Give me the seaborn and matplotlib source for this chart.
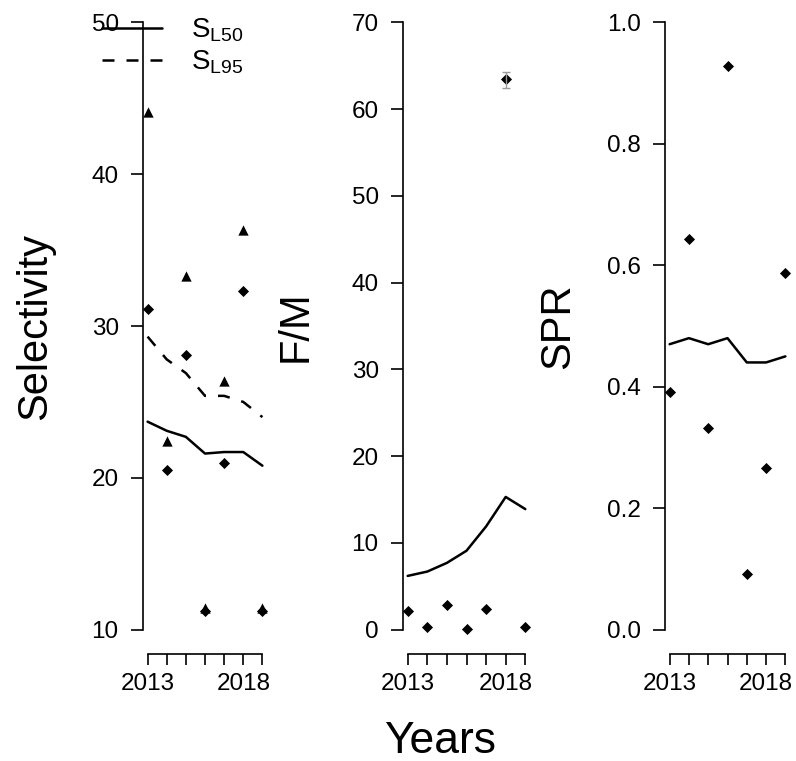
import numpy as np
import pandas as pd
import matplotlib
matplotlib.use("Agg")
import matplotlib.pyplot as plt
import seaborn as sns
from matplotlib.lines import Line2D

# data
years = [2013, 2014, 2015, 2016, 2017, 2018, 2019]

sel_l50_est = [23.7, 23.1, 22.7, 21.6, 21.7, 21.7, 20.8]
sel_l95_est = [29.3, 27.8, 26.9, 25.4, 25.4, 25.0, 24.0]
sel_l50_obs = [31.1, 20.5, 28.1, 11.2, 21.0, 32.3, 11.2]
sel_l95_obs = [44.1, 22.4, 33.3, 11.4, 26.4, 36.3, 11.4]

fm_est = [6.2, 6.7, 7.7, 9.1, 11.9, 15.3, 13.9]
fm_obs = [2.2, 0.35, 2.8, 0.1, 2.4, 63.5, 0.35]
fm_lo = [np.nan, np.nan, np.nan, np.nan, np.nan, 62.4, np.nan]
fm_hi = [np.nan, np.nan, np.nan, np.nan, np.nan, 64.3, np.nan]

spr_est = [0.47, 0.48, 0.47, 0.48, 0.44, 0.44, 0.45]
spr_obs = [0.392, 0.644, 0.332, 0.928, 0.092, 0.267, 0.587]

sel = pd.DataFrame({"year": years, "l50": sel_l50_est, "l95": sel_l95_est,
                    "l50_obs": sel_l50_obs, "l95_obs": sel_l95_obs})
fm = pd.DataFrame({"year": years, "est": fm_est, "obs": fm_obs, "lo": fm_lo, "hi": fm_hi})
spr = pd.DataFrame({"year": years, "est": spr_est, "obs": spr_obs})

sns.set_style("ticks")
plt.rcParams["font.family"] = ["Liberation Sans", "DejaVu Sans"]
plt.rcParams["mathtext.default"] = "regular"
plt.rcParams["text.color"] = "black"

W, H = 796, 761
fig = plt.figure(figsize=(W / 100, H / 100), dpi=100)

bottom = (H - 654) / H
height = 656 / H
lefts = [(143, 267), (403, 530), (665, 790)]
axes = [fig.add_axes([l / W, bottom, (r - l) / W, height]) for l, r in lefts]

lw = 1.8
dash = (0, (4.8, 4.8))

# selectivity
ax = axes[0]
sns.lineplot(data=sel, x="year", y="l50", ax=ax, color="black", lw=lw)
sns.lineplot(data=sel, x="year", y="l95", ax=ax, color="black", lw=lw, linestyle=dash)
sns.scatterplot(data=sel, x="year", y="l95_obs", ax=ax, marker="^", s=55, color="black", linewidth=0)
sns.scatterplot(data=sel, x="year", y="l50_obs", ax=ax, marker="D", s=32, color="black", linewidth=0)

# F/M
ax = axes[1]
sns.lineplot(data=fm, x="year", y="est", ax=ax, color="black", lw=lw)
err = fm.dropna()
ax.errorbar(err["year"], err["obs"], yerr=[err["obs"] - err["lo"], err["hi"] - err["obs"]],
            fmt="none", ecolor="#9a9a9a", elinewidth=1, capsize=3)
sns.scatterplot(data=fm, x="year", y="obs", ax=ax, marker="D", s=32, color="black", linewidth=0)

# SPR
ax = axes[2]
sns.lineplot(data=spr, x="year", y="est", ax=ax, color="black", lw=lw)
sns.scatterplot(data=spr, x="year", y="obs", ax=ax, marker="D", s=32, color="black", linewidth=0)

ylims = [(10, 50), (0, 70), (0, 1)]
yticks = [[10, 20, 30, 40, 50], [0, 10, 20, 30, 40, 50, 60, 70], [0, 0.2, 0.4, 0.6, 0.8, 1.0]]
yfmt = ["{:.0f}", "{:.0f}", "{:.1f}"]
for ax, (lo, hi), tk, f in zip(axes, ylims, yticks, yfmt):
    pad = 0.04 * (hi - lo)
    ax.set_ylim(lo - pad, hi + pad)
    ax.set_xlim(2013 - 0.24, 2019 + 0.24)
    ax.set_yticks(tk)
    ax.set_yticklabels([f.format(t) for t in tk])
    ax.set_xticks(years)
    ax.set_xticklabels(["2013", "", "", "", "", "2018", ""])
    sns.despine(ax=ax)
    ax.spines["left"].set_bounds(lo, hi)
    ax.spines["bottom"].set_bounds(2013, 2019)
    for s in ("left", "bottom"):
        ax.spines[s].set_linewidth(1.2)
        ax.spines[s].set_color("black")
    ax.tick_params(axis="y", labelsize=17.5, colors="black", width=1.2, length=9, pad=8.5)
    ax.tick_params(axis="x", labelsize=17.5, colors="black", width=1.2, length=8, pad=6)
    ax.set_xlabel("")
    ax.set_ylabel("")
    ax.patch.set_alpha(0)

for x, name in [(46, "Selectivity"), (307, "F/M"), (569, "SPR")]:
    fig.text(x / W, 1 - 326 / H, name, rotation=90, rotation_mode="anchor",
             ha="center", va="baseline", fontsize=30)
fig.text(440 / W, 1 - 753 / H, "Years", ha="center", va="baseline", fontsize=32)

handles = [Line2D([], [], color="black", lw=lw),
           Line2D([], [], color="black", lw=lw, linestyle=dash)]
axes[0].legend(handles, ["S$_{L50}$", "S$_{L95}$"], loc="upper left",
               bbox_to_anchor=(102 / W, 1 - 17 / H), bbox_transform=fig.transFigure,
               frameon=False, fontsize=20, handlelength=2.16, handletextpad=1.05,
               labelspacing=0.15, borderpad=0, borderaxespad=0)

fig.savefig("out.png", dpi=100)
